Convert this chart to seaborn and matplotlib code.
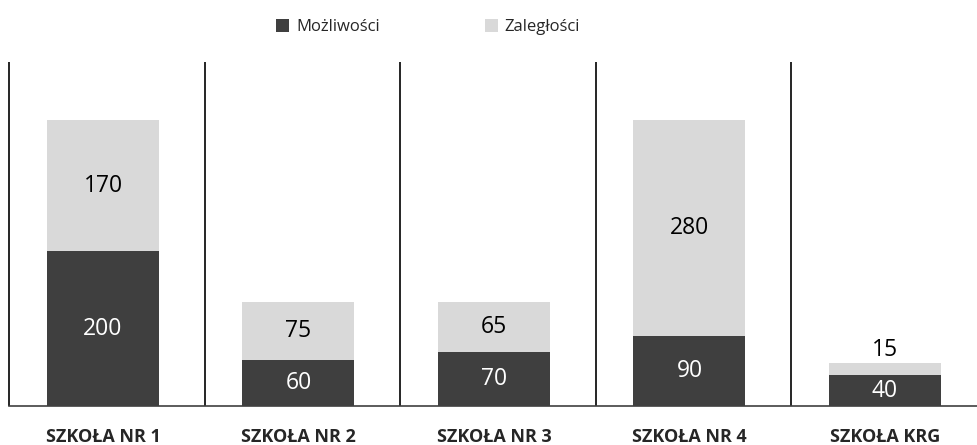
import pandas as pd
import matplotlib.pyplot as plt
import seaborn as sns

# Dane
szkoly = ['SZKOŁA NR 1', 'SZKOŁA NR 2', 'SZKOŁA NR 3', 'SZKOŁA NR 4', 'SZKOŁA KRG']
mozliwosci = [200, 60, 70, 90, 40]
zaleglosci = [170, 75, 65, 280, 15]

ciemny = '#3f3f3f'
jasny = '#d9d9d9'

df = pd.DataFrame({'szkola': szkoly, 'mozliwosci': mozliwosci, 'zaleglosci': zaleglosci})
df['suma'] = df['mozliwosci'] + df['zaleglosci']

sns.set_style('white')
plt.rcParams['font.family'] = ['Open Sans', 'DejaVu Sans']

fig = plt.figure(figsize=(9.77, 4.45), dpi=100)
ax = fig.add_axes([0, 0.0876, 1, 0.7736])

# Słupki skumulowane: najpierw suma (jasny), potem możliwości (ciemny)
sns.barplot(data=df, x='szkola', y='suma', color=jasny, width=0.573, saturation=1,
            linewidth=0, ax=ax, label='Zaległości')
sns.barplot(data=df, x='szkola', y='mozliwosci', color=ciemny, width=0.573, saturation=1,
            linewidth=0, ax=ax, label='Możliwości')

# Etykiety wartości
for i, row in df.iterrows():
    ax.text(i, row['mozliwosci'] / 2, str(row['mozliwosci']), ha='center', va='center',
            color='white', fontsize=16.5)
    if row['zaleglosci'] < 30:
        ax.text(i, row['suma'] + 2, str(row['zaleglosci']), ha='center', va='bottom',
                color='black', fontsize=16.5)
    else:
        ax.text(i, row['mozliwosci'] + row['zaleglosci'] / 2, str(row['zaleglosci']),
                ha='center', va='center', color='black', fontsize=16.5)

# Linie rozdzielające
for i in range(len(szkoly)):
    ax.axvline(i - 0.48, color='black', lw=1.2)

ax.set_xlim(-0.527, 4.471)
ax.set_ylim(0, 445)
ax.set_yticks([])
ax.set_xlabel('')
ax.set_ylabel('')
if ax.get_legend() is not None:
    ax.get_legend().remove()
for s in ['top', 'right', 'left']:
    ax.spines[s].set_visible(False)
ax.spines['bottom'].set_color('#404040')
ax.spines['bottom'].set_linewidth(1.2)
ax.spines['bottom'].set_bounds(-0.48, 4.471)
ax.tick_params(axis='x', length=0, pad=16)
for t in ax.get_xticklabels():
    t.set_fontweight('bold')
    t.set_fontsize(13)

handles, labels = ax.get_legend_handles_labels()
order = [labels.index('Możliwości'), labels.index('Zaległości')]
fig.legend([handles[k] for k in order], [labels[k] for k in order],
           loc='center', bbox_to_anchor=(428 / 977, 1 - 27 / 445), ncol=2, frameon=False,
           fontsize=12, handlelength=0.8, handleheight=0.8, handletextpad=0.4, columnspacing=6.3)

plt.savefig('out.png', dpi=100)
